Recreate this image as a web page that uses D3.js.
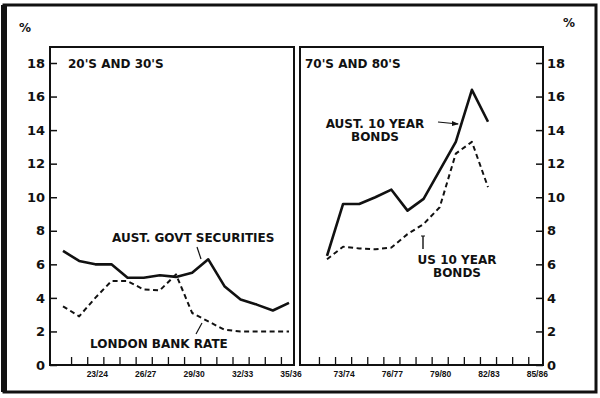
<!DOCTYPE html>
<html><head><meta charset="utf-8">
<script src="https://cdn.jsdelivr.net/npm/d3@7"></script>
<style>
html,body{margin:0;padding:0;background:#fff;}
svg{display:block;}
text{font-family:"DejaVu Sans","Liberation Sans",Arial,sans-serif;font-weight:bold;fill:#111;}
text.xt{font-family:"Liberation Sans",Arial,sans-serif;}
</style></head>
<body>
<svg id="c" width="600" height="398"></svg>
<script>
// ---- data ----
const yearsEarly = [1921,1922,1923,1924,1925,1926,1927,1928,1929,1930,1931,1932,1933,1934,1935];
const austGovtSecurities = [6.8,6.2,6.0,6.0,5.2,5.2,5.35,5.25,5.5,6.3,4.7,3.9,3.6,3.25,3.7];
const londonBankRate     = [3.5,2.9,4.0,5.0,5.0,4.5,4.45,5.4,3.1,2.6,2.1,2.0,2.0,2.0,2.0];
const yearsLate = [1972,1973,1974,1975,1976,1977,1978,1979,1980,1981,1982];
const aust10YearBonds = [6.5,9.6,9.6,10.0,10.45,9.2,9.9,11.6,13.3,16.4,14.5];
const us10YearBonds   = [6.3,7.05,6.95,6.9,7.0,7.8,8.4,9.4,12.6,13.3,10.6];
const yTicks = [0,2,4,6,8,10,12,14,16,18];
const earlyLabels = [[1923,"23/24"],[1926,"26/27"],[1929,"29/30"],[1932,"32/33"],[1935,"35/36"]];
const lateLabels  = [[1973,"73/74"],[1976,"76/77"],[1979,"79/80"],[1982,"82/83"],[1985,"85/86"]];

const svg = d3.select("#c");
const y = d3.scaleLinear().domain([0,18]).range([365,63]);
const xL = d3.scaleLinear().domain([1921,1935]).range([63,289]);
const xR = d3.scaleLinear().domain([1972,1982]).range([327,488]);

// outer frame
svg.append("rect").attr("x",4).attr("y",5).attr("width",592).attr("height",387)
  .attr("fill","none").attr("stroke","#111").attr("stroke-width",3);
svg.append("line").attr("x1",4).attr("x2",4).attr("y1",5).attr("y2",392)
  .attr("stroke","#111").attr("stroke-width",6);

// panels
const panels = [{x0:50,x1:294},{x0:300,x1:543}];
panels.forEach(p=>{
  svg.append("rect").attr("x",p.x0).attr("y",47).attr("width",p.x1-p.x0).attr("height",365-47)
    .attr("fill","none").attr("stroke","#111").attr("stroke-width",2);
});

// y axes
const gl = svg.append("g").attr("transform","translate(50,0)")
  .call(d3.axisRight(y).tickValues(yTicks).tickSize(7).tickFormat(""));
gl.select(".domain").remove();
gl.selectAll("line").attr("stroke","#111").attr("stroke-width",1.5);
const gr = svg.append("g").attr("transform","translate(543,0)")
  .call(d3.axisLeft(y).tickValues(yTicks).tickSize(7).tickFormat(""));
gr.select(".domain").remove();
gr.selectAll("line").attr("stroke","#111").attr("stroke-width",1.5);
yTicks.forEach(t=>{
  svg.append("text").attr("x",45).attr("y",y(t)).attr("dy","0.36em").attr("text-anchor","end")
    .attr("font-size",13).text(t);
  svg.append("text").attr("x",547).attr("y",y(t)).attr("dy","0.36em").attr("text-anchor","start")
    .attr("font-size",13).text(t);
});
svg.append("text").attr("x",19).attr("y",32).attr("font-size",12).text("%");
svg.append("text").attr("x",563).attr("y",27).attr("font-size",12).text("%");

// x axes (ticks at year boundaries)
const ticksL = d3.range(1921.5,1935,1);
const ticksR = d3.range(1971.5,1985,1);
const ax1 = svg.append("g").attr("transform","translate(0,365)")
  .call(d3.axisTop(xL).tickValues(ticksL).tickSize(8).tickFormat(""));
ax1.select(".domain").remove();
ax1.selectAll("line").attr("stroke","#111").attr("stroke-width",1.3);
const ax2 = svg.append("g").attr("transform","translate(0,365)")
  .call(d3.axisTop(xR).tickValues(ticksR).tickSize(8).tickFormat(""));
ax2.select(".domain").remove();
ax2.selectAll("line").attr("stroke","#111").attr("stroke-width",1.3);
earlyLabels.forEach(([v,l])=>svg.append("text").attr("class","xt").attr("x",xL(v)+2).attr("y",377)
  .attr("text-anchor","middle").attr("font-size",8.5).text(l));
lateLabels.forEach(([v,l])=>svg.append("text").attr("class","xt").attr("x",xR(v)+1).attr("y",377)
  .attr("text-anchor","middle").attr("font-size",8.5).text(l));

// lines
function drawLine(xs, vals, xs_scale, dashed){
  const line = d3.line().x((d,i)=>xs_scale(xs[i])).y(d=>y(d)).curve(d3.curveLinear);
  svg.append("path").datum(vals).attr("d",line).attr("fill","none").attr("stroke","#111")
    .attr("stroke-width",dashed?2:2.6).attr("stroke-linejoin","round")
    .attr("stroke-dasharray",dashed?"5,3.5":null);
}
drawLine(yearsEarly, austGovtSecurities, xL, false);
drawLine(yearsEarly, londonBankRate, xL, true);
drawLine(yearsLate, aust10YearBonds, xR, false);
drawLine(yearsLate, us10YearBonds, xR, true);

// annotations
svg.append("text").attr("x",68).attr("y",68).attr("font-size",12).text("20'S AND 30'S");
svg.append("text").attr("x",305).attr("y",68).attr("font-size",12).text("70'S AND 80'S");
svg.append("text").attr("x",112).attr("y",242).attr("font-size",12).text("AUST. GOVT SECURITIES");
svg.append("text").attr("x",90).attr("y",348).attr("font-size",12).text("LONDON BANK RATE");
svg.append("text").attr("x",375).attr("y",128).attr("text-anchor","middle").attr("font-size",12).text("AUST. 10 YEAR");
svg.append("text").attr("x",375).attr("y",141).attr("text-anchor","middle").attr("font-size",12).text("BONDS");
svg.append("text").attr("x",457).attr("y",264).attr("text-anchor","middle").attr("font-size",12).text("US 10 YEAR");
svg.append("text").attr("x",457).attr("y",277).attr("text-anchor","middle").attr("font-size",12).text("BONDS");

// pointers
const ptr = (x1,y1,x2,y2,w)=>svg.append("line").attr("x1",x1).attr("y1",y1).attr("x2",x2).attr("y2",y2)
  .attr("stroke","#111").attr("stroke-width",w||1.2);
ptr(197,247,201,259);
ptr(196,334,202,323);
ptr(438,122,458,124);
svg.append("path").attr("d","M452,121 L459,124 L452,126 Z").attr("fill","#111");
ptr(423,236,423,249,1.4);
ptr(421,236,425,236,1);
</script>
</body></html>
